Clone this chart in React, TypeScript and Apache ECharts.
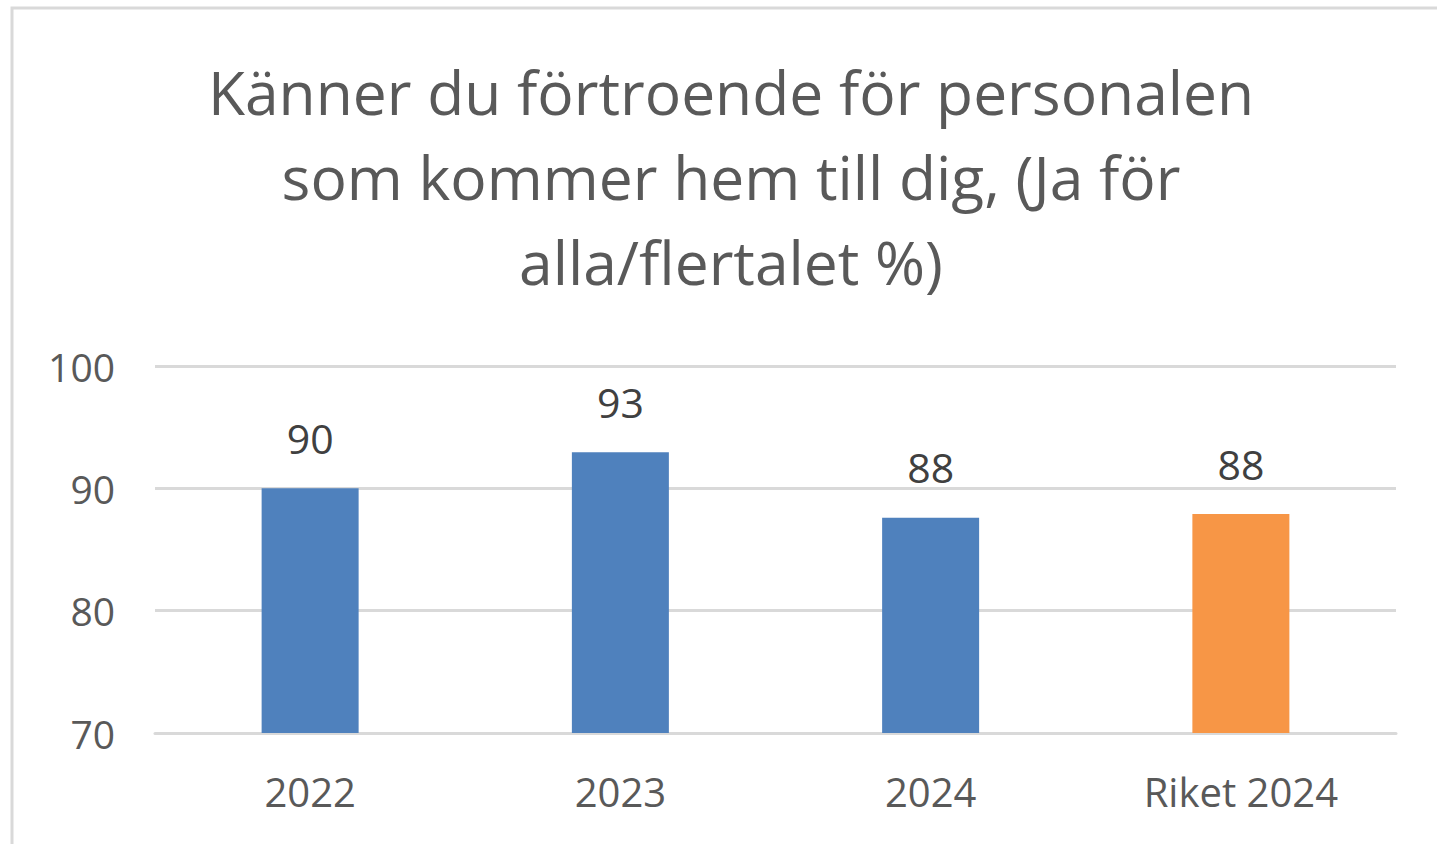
import React, { useEffect, useRef } from "react";
import * as echarts from "echarts";

const categories = ["2022", "2023", "2024", "Riket 2024"];
const values = [90, 92.95, 87.6, 87.9];
const labelValues = ["90", "93", "88", "88"];
const barColors = ["#4F81BD", "#4F81BD", "#4F81BD", "#F79646"];
const titleLines = [
  "Känner du förtroende för personalen",
  "som kommer hem till dig, (Ja för",
  "alla/flertalet %)",
];

export default function App() {
  const ref = useRef<HTMLDivElement>(null);
  useEffect(() => {
    if (!ref.current) return;
    const chart = echarts.init(ref.current, null, { renderer: "svg" });
    const font = "'Open Sans', 'Noto Sans', sans-serif";
    chart.setOption({
      animation: false,
      backgroundColor: "#ffffff",
      graphic: [
        {
          type: "rect",
          shape: { x: 12, y: 8, width: 1500, height: 900 },
          style: { fill: "none", stroke: "#D9D9D9", lineWidth: 3 },
          silent: true,
        },
        {
          type: "text",
          x: 731,
          y: 49,
          silent: true,
          style: {
            text: titleLines.join("\n"),
            align: "center",
            verticalAlign: "top",
            fontFamily: font,
            fontSize: 60.5,
            fontWeight: "normal",
            fill: "#595959",
            lineHeight: 85,
          },
        },
      ],
      grid: { left: 155, right: 41, top: 366, bottom: 111 },
      xAxis: {
        type: "category",
        data: categories,
        axisLine: { show: true, lineStyle: { color: "#D9D9D9", width: 3 } },
        axisTick: { show: false },
        axisLabel: { color: "#595959", fontSize: 40, fontFamily: font, margin: 38 },
      },
      yAxis: {
        type: "value",
        min: 70,
        max: 100,
        interval: 10,
        axisLine: { show: false },
        axisTick: { show: false },
        splitLine: { lineStyle: { color: "#D9D9D9", width: 3 } },
        axisLabel: { color: "#595959", fontSize: 39, fontFamily: font, margin: 40 },
      },
      series: [
        {
          type: "bar",
          barWidth: 97,
          data: values.map((v, i) => ({
            value: v,
            itemStyle: { color: barColors[i] },
            label: { formatter: labelValues[i] },
          })),
          label: {
            show: true,
            position: "top",
            distance: 30,
            color: "#404040",
            fontSize: 41,
            fontFamily: font,
          },
        },
      ],
    });
    return () => chart.dispose();
  }, []);
  return (
    <div
      ref={ref}
      style={{ position: "fixed", left: 0, top: 0, width: 1437, height: 844 }}
    />
  );
}
